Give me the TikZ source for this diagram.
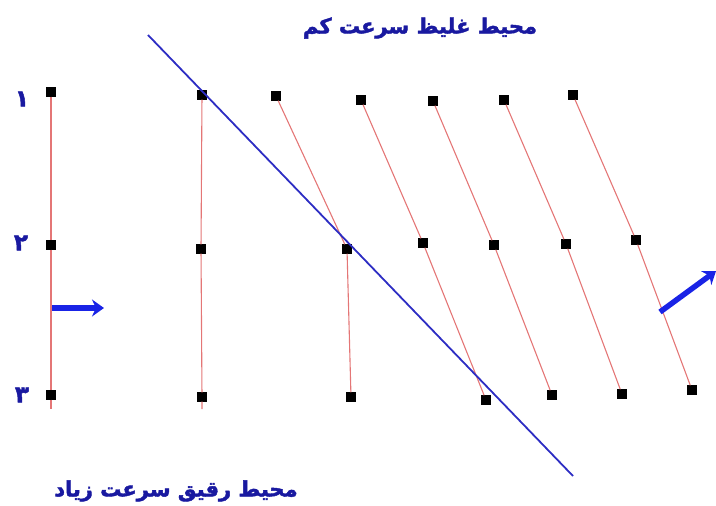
\documentclass[tikz,border=0pt]{standalone}
\usepackage{fontspec}
\newfontfamily\arabicfont[Script=Arabic, FakeBold=2]{DejaVu Sans}
\TeXXeTstate=1
\usetikzlibrary{arrows.meta}

\definecolor{redline}{RGB}{228,118,118}
\definecolor{frontline}{RGB}{45,45,195}
\definecolor{arrowblue}{RGB}{25,35,230}
\definecolor{textblue}{RGB}{25,25,160}

\begin{document}
\begin{tikzpicture}[x=1pt, y=-1pt]

\tikzset{
  particle/.style={
    draw=black,
    fill=black,
    minimum size=9pt,
    inner sep=0pt
  },
  spring/.style={
    draw=redline,
    line width=1.1pt
  },
  front/.style={
    draw=frontline,
    line width=1.8pt
  },
  move/.style={
    draw=arrowblue,
    line width=5.5pt,
    -{Stealth[length=12pt, width=17pt]}
  },
  title/.style={
    font=\arabicfont\bfseries\fontsize{21}{24}\selectfont,
    text=textblue
  },
  rowlabel/.style={
    font=\arabicfont\bfseries\fontsize{23}{25}\selectfont,
    text=textblue
  }
}

\useasboundingbox (0,0) rectangle (716,506);

% Nodes column 0
\node[particle] (a1) at (51,92)  {};
\node[particle] (a2) at (51,245) {};
\node[particle] (a3) at (51,395) {};
\coordinate (ae) at (51,409);

% Nodes column 1
\node[particle] (b1) at (202,95)  {};
\node[particle] (b2) at (201,249) {};
\node[particle] (b3) at (202,397) {};
\coordinate (be) at (202,409);

% Nodes column 2
\node[particle] (c1) at (276,96)  {};
\node[particle] (c2) at (347,249) {};
\node[particle] (c3) at (351,397) {};

% Nodes column 3
\node[particle] (d1) at (361,100) {};
\node[particle] (d2) at (423,243) {};
\node[particle] (d3) at (486,400) {};

% Nodes column 4
\node[particle] (e1) at (433,101) {};
\node[particle] (e2) at (494,245) {};
\node[particle] (e3) at (552,395) {};

% Nodes column 5
\node[particle] (f1) at (504,100) {};
\node[particle] (f2) at (566,244) {};
\node[particle] (f3) at (622,394) {};

% Nodes column 6
\node[particle] (g1) at (573,95)  {};
\node[particle] (g2) at (636,240) {};
\node[particle] (g3) at (692,390) {};

% Row labels
\node[rowlabel] (n1) at (22,99)  {\beginR ۱\endR};
\node[rowlabel] (n2) at (21,243) {\beginR ۲\endR};
\node[rowlabel] (n3) at (22,395) {\beginR ۳\endR};

% Titles
\node[title] (top)    at (420,28)  {\beginR محیط غلیظ سرعت کم\endR};
\node[title] (bottom) at (176,491) {\beginR محیط رقیق سرعت زیاد\endR};

% Lines
\draw[spring] (a1) -- (a2) -- (a3) -- (ae);
\draw[spring] (b1) -- (b2) -- (b3) -- (be);
\draw[spring] (c1) -- (c2) -- (c3);
\draw[spring] (d1) -- (d2) -- (d3);
\draw[spring] (e1) -- (e2) -- (e3);
\draw[spring] (f1) -- (f2) -- (f3);
\draw[spring] (g1) -- (g2) -- (g3);

% Wave front
\coordinate (w1) at (148,35);
\coordinate (w2) at (573,476);
\draw[front] (w1) -- (w2);

% Arrows
\coordinate (m1) at (52,308);
\coordinate (m2) at (104,308);
\draw[move] (m1) -- (m2);

\coordinate (k1) at (660,312);
\coordinate (k2) at (716,271);
\draw[move] (k1) -- (k2);

\end{tikzpicture}
\end{document}
